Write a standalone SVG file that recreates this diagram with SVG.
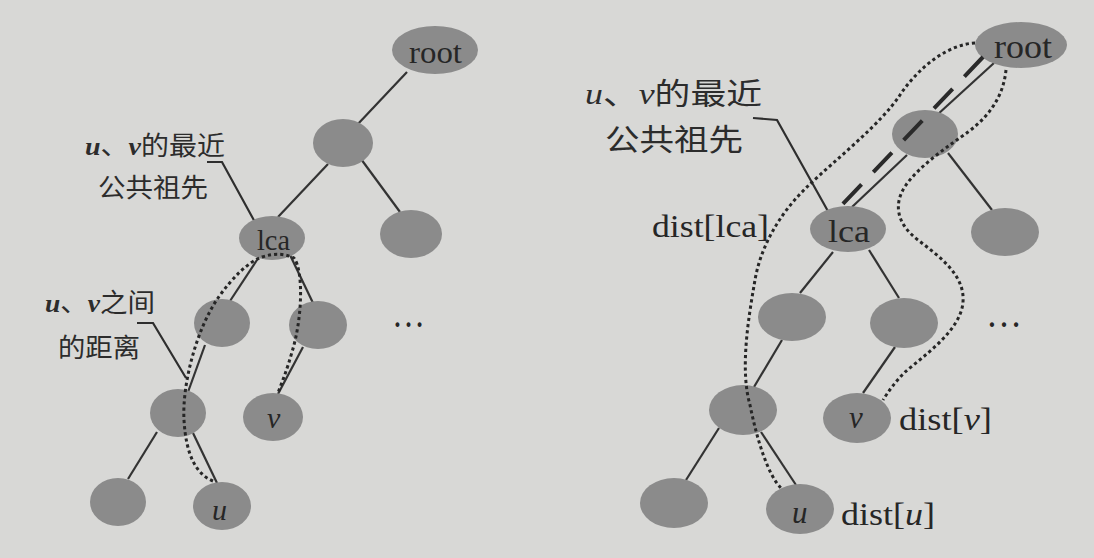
<svg xmlns="http://www.w3.org/2000/svg" width="1094" height="558" viewBox="0 0 1094 558">
<style>
.bg{fill:#d8d8d6}
.node{fill:#8b8b8b;stroke:none}
.edge{stroke:#333333;stroke-width:2.2;fill:none}
.lead{stroke:#2e2e2e;stroke-width:2.2;fill:none}
.dot{stroke:#262626;stroke-width:3;stroke-dasharray:3.2 3;fill:none}
.dash{stroke:#2a2a2a;stroke-width:4;stroke-dasharray:27 17;fill:none}
.t{font-family:"Liberation Serif","Times New Roman",serif;fill:#262626}
.it{font-family:"Liberation Serif","Times New Roman",serif;font-style:italic}
.cjk{font-family:"Noto Sans CJK SC","Noto Sans CJK JP",sans-serif;fill:#2c2c2c}
</style>
<rect class="bg" x="0" y="0" width="1094" height="558"/>

<g id="connectors">
  <!-- left tree edges -->
  <line class="edge" x1="407" y1="72" x2="357" y2="125"/>
  <line class="edge" x1="328" y1="164" x2="278" y2="217"/>
  <line class="edge" x1="361" y1="159" x2="400" y2="212"/>
  <line class="edge" x1="257" y1="260" x2="230" y2="301"/>
  <line class="edge" x1="290" y1="255" x2="313" y2="303"/>
  <line class="edge" x1="205" y1="345" x2="188" y2="392"/>
  <line class="edge" x1="303" y1="347" x2="278" y2="394"/>
  <line class="edge" x1="157" y1="432" x2="128" y2="479"/>
  <line class="edge" x1="193" y1="433" x2="217" y2="483"/>
  <!-- left leaders -->
  <polyline class="lead" points="207,162 222,162 256,224"/>
  <polyline class="lead" points="137,323 153,323 186,378"/>
  <!-- right tree edges -->
  <line class="edge" x1="994" y1="63" x2="937" y2="115"/>
  <line class="edge" x1="907" y1="155" x2="852" y2="207"/>
  <line class="edge" x1="948" y1="153" x2="992" y2="210"/>
  <line class="edge" x1="833" y1="252" x2="800" y2="293"/>
  <line class="edge" x1="869" y1="250" x2="899" y2="298"/>
  <line class="edge" x1="782" y1="340" x2="754" y2="387"/>
  <line class="edge" x1="895" y1="347" x2="863" y2="393"/>
  <line class="edge" x1="719" y1="428" x2="686" y2="480"/>
  <line class="edge" x1="761" y1="432" x2="796" y2="485"/>
  <!-- right leader -->
  <polyline class="lead" points="753,118 777,120 829,213"/>
</g>

<g id="n-root-l"><ellipse class="node" cx="435" cy="50" rx="43" ry="24"/><text class="t" x="409" y="63" font-size="31" textLength="53" lengthAdjust="spacingAndGlyphs">root</text></g>
<g id="n-a-l"><ellipse class="node" cx="343" cy="143" rx="30" ry="24"/></g>
<g id="n-lca-l"><ellipse class="node" cx="272" cy="238" rx="33" ry="22"/><text class="t" x="257" y="250" font-size="30" textLength="33" lengthAdjust="spacingAndGlyphs">lca</text></g>
<g id="n-r-l"><ellipse class="node" cx="411" cy="234" rx="31" ry="24"/></g>
<g id="n-lc-l"><ellipse class="node" cx="222" cy="323" rx="28" ry="24"/></g>
<g id="n-rc-l"><ellipse class="node" cx="318" cy="325" rx="29" ry="24"/></g>
<g id="n-ll-l"><ellipse class="node" cx="178" cy="413" rx="28" ry="24"/></g>
<g id="n-v-l"><ellipse class="node" cx="273" cy="417" rx="30" ry="24"/><text class="it" x="267" y="428" font-size="30" fill="#262626">v</text></g>
<g id="n-bl-l"><ellipse class="node" cx="118" cy="502" rx="28" ry="24"/></g>
<g id="n-u-l"><ellipse class="node" cx="222" cy="506" rx="29" ry="24"/><text class="it" x="212" y="520" font-size="30" fill="#262626">u</text></g>

<g id="n-root-r"><ellipse class="node" cx="1021" cy="45" rx="46" ry="23"/><text class="t" x="994" y="58" font-size="33" textLength="58" lengthAdjust="spacingAndGlyphs">root</text></g>
<g id="n-a-r"><ellipse class="node" cx="925" cy="134" rx="33" ry="24"/></g>
<g id="n-lca-r"><ellipse class="node" cx="848" cy="229" rx="38" ry="23"/><text class="t" x="828" y="242" font-size="32" textLength="42" lengthAdjust="spacingAndGlyphs">lca</text></g>
<g id="n-r-r"><ellipse class="node" cx="1005" cy="232" rx="34" ry="24"/></g>
<g id="n-lc-r"><ellipse class="node" cx="792" cy="317" rx="34" ry="24"/></g>
<g id="n-rc-r"><ellipse class="node" cx="904" cy="323" rx="34" ry="25"/></g>
<g id="n-ll-r"><ellipse class="node" cx="743" cy="410" rx="34" ry="25"/></g>
<g id="n-v-r"><ellipse class="node" cx="857" cy="418" rx="34" ry="25"/><text class="it" x="849" y="428" font-size="31" fill="#262626">v</text></g>
<g id="n-bl-r"><ellipse class="node" cx="674" cy="503" rx="34" ry="25"/></g>
<g id="n-u-r"><ellipse class="node" cx="800" cy="509" rx="34" ry="25"/><text class="it" x="792" y="523" font-size="31" fill="#262626">u</text></g>

<g id="paths">
  <path class="dot" d="M213,481 C196,474 186,455 184,420 C182,385 196,330 218,298 C232,278 248,262 262,257 Q280,251 294,258 C304,272 302,320 292,352 C287,370 282,382 278,393"/>
  <path class="dot" d="M975,43 C950,44 920,65 900,95 C880,125 835,160 808,186 C785,208 762,240 755,280 C748,320 740,370 750,405 C757,440 768,475 781,488"/>
  <path class="dot" d="M1006,70 C1004,90 995,112 968,132 C950,145 920,165 906,185 C892,205 898,225 918,240 C940,257 965,275 963,302 C961,330 925,355 905,372 C895,382 888,392 883,400"/>
  <line class="dash" x1="983" y1="57" x2="840" y2="207"/>
</g>

<g id="labels">
  <text class="cjk" x="85" y="155" font-size="26" textLength="140" lengthAdjust="spacingAndGlyphs"><tspan class="it" font-weight="bold">u</tspan>、<tspan class="it" font-weight="bold">v</tspan>的最近</text>
  <text class="cjk" x="98" y="197" font-size="26" textLength="110" lengthAdjust="spacingAndGlyphs">公共祖先</text>
  <text class="cjk" x="45" y="312" font-size="26" textLength="110" lengthAdjust="spacingAndGlyphs"><tspan class="it" font-weight="bold">u</tspan>、<tspan class="it" font-weight="bold">v</tspan>之间</text>
  <text class="cjk" x="58" y="357" font-size="26" textLength="82" lengthAdjust="spacingAndGlyphs">的距离</text>
  <text class="t" x="392" y="327" font-size="40" textLength="33" lengthAdjust="spacingAndGlyphs">…</text>
  <text class="cjk" x="585" y="104" font-size="30" textLength="177" lengthAdjust="spacingAndGlyphs"><tspan class="it">u</tspan>、<tspan class="it">v</tspan>的最近</text>
  <text class="cjk" x="605" y="150" font-size="30" textLength="138" lengthAdjust="spacingAndGlyphs">公共祖先</text>
  <text class="t" x="652" y="237" font-size="32" textLength="117" lengthAdjust="spacingAndGlyphs">dist[lca]</text>
  <text class="t" x="986" y="327" font-size="40" textLength="36" lengthAdjust="spacingAndGlyphs">…</text>
  <text class="t" x="899" y="430" font-size="32" textLength="93" lengthAdjust="spacingAndGlyphs">dist[<tspan class="it">v</tspan>]</text>
  <text class="t" x="841" y="525" font-size="32" textLength="94" lengthAdjust="spacingAndGlyphs">dist[<tspan class="it">u</tspan>]</text>
</g>
</svg>
